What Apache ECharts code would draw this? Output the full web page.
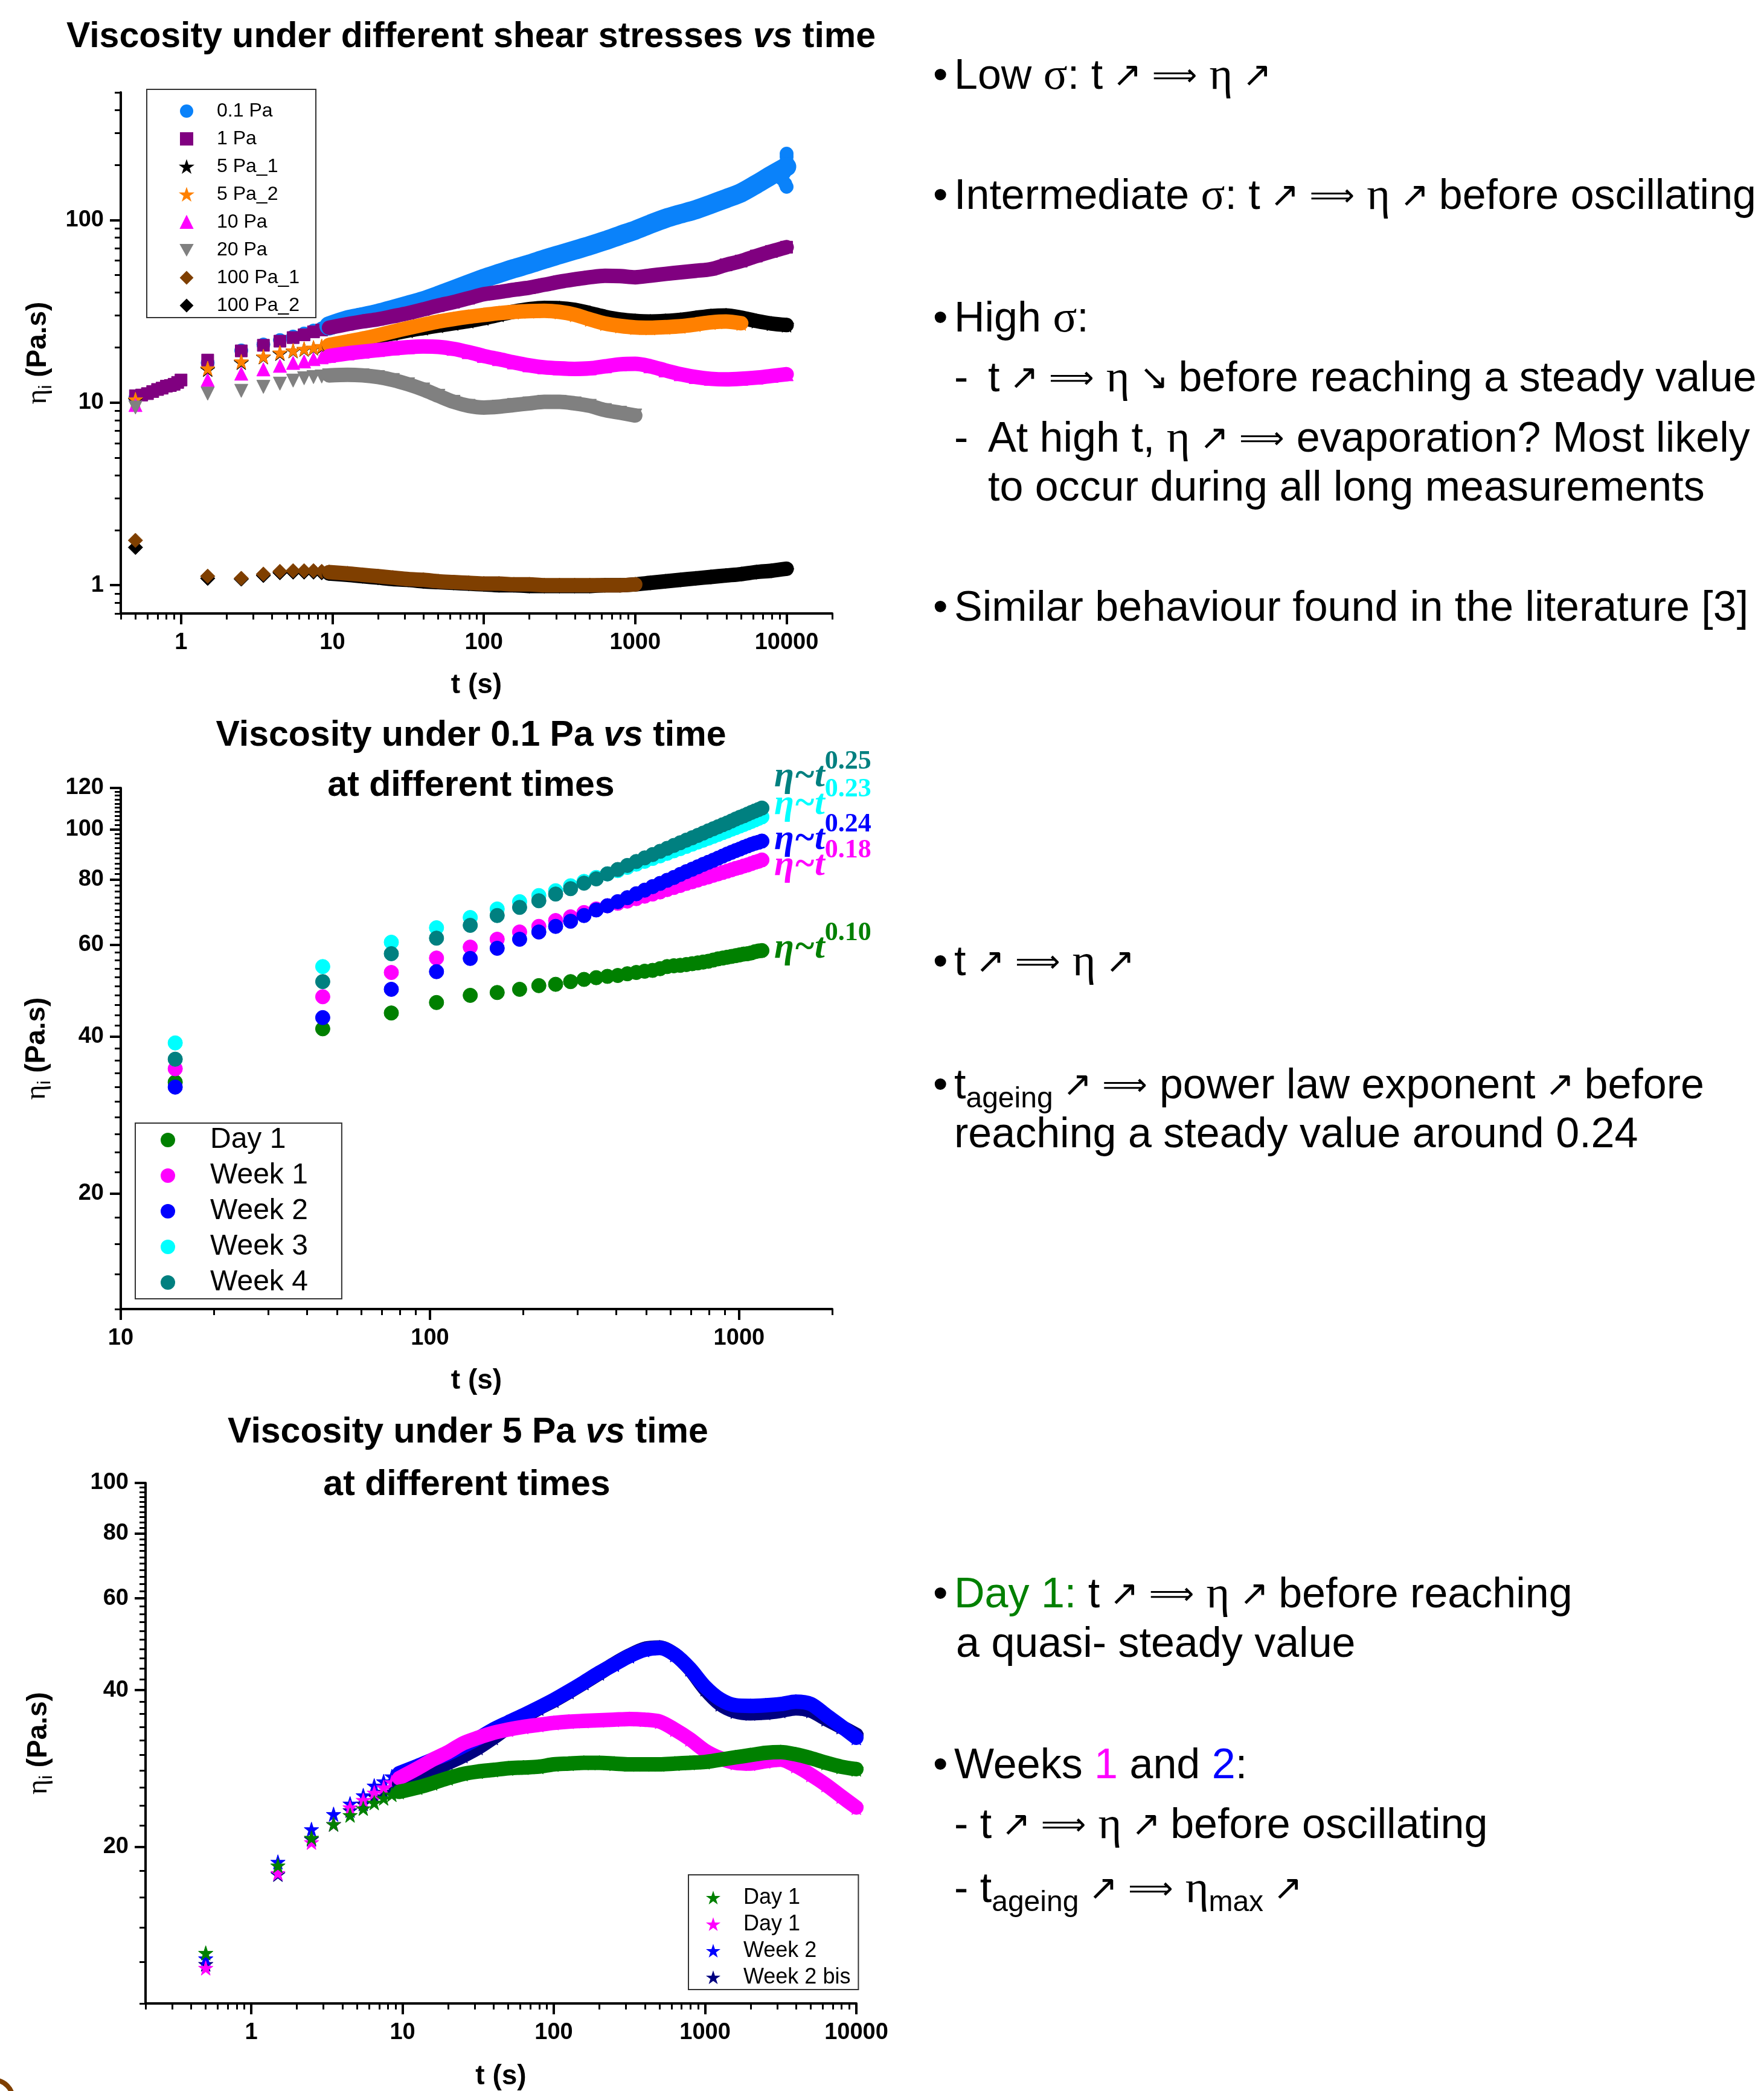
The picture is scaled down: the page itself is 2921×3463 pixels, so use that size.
<!DOCTYPE html>
<html>
<head>
<meta charset="utf-8">
<title>Viscosity vs time</title>
<script src="https://cdn.jsdelivr.net/npm/echarts@6.0.0/dist/echarts.min.js"></script>
<style>
  html, body { margin: 0; padding: 0; background: #fff; }
  #main { width: 2921px; height: 3463px; }
</style>
</head>
<body>
<div id="main"></div>
<script>
var SANS = '"Liberation Sans", Arial, sans-serif'
var SERIF = '"Liberation Serif", "Times New Roman", serif'
var ARROW = '"DejaVu Sans", sans-serif'

// sample times (s) of the long measurements, top and bottom charts
var tLong = [0.5, 1.5, 2.5, 3.5, 4.5, 5.5, 6.5, 7.5, 8.5, 9.5,
  12.6, 15.8, 20, 25.1, 31.6, 39.8, 50.1, 63.1, 79.4, 100,
  126, 158, 200, 251, 316, 398, 501, 631, 794, 1000,
  1259, 1585, 1995, 2512, 3162, 3981, 5012, 6310, 7943, 10000]

// top chart : viscosity (Pa.s) for each shear stress
var t1PaStart = [0.55, 0.6, 0.65, 0.7, 0.75, 0.8, 0.85, 0.9, 0.95, 1.0]
var v1PaStart = [11.0, 11.2, 11.5, 11.8, 12.0, 12.3, 12.4, 12.6, 12.9, 13.3]
var v01Pa = [10.6, 16.5, 19.3, 20.8, 22.0, 23.0, 23.9, 24.8, 25.5, 26.3,
  28.4, 29.5, 30.8, 32.4, 34.2, 36.1, 38.6, 41.5, 44.6, 47.9,
  51.0, 54.2, 57.4, 61.0, 64.6, 68.4, 72.4, 77.0, 82.4, 88.0,
  95, 102, 108, 114, 122, 131, 141, 157, 176, 196]
// scattered last points of 0.1 Pa around t = 10000 s
var t01PaEnd = [9300, 9600, 9800, 10000, 10000, 10000, 10000]
var v01PaEnd = [168, 180, 158, 152, 210, 222, 231]
var v1Pa = [10.9, 17.1, 19.2, 20.6, 21.7, 22.7, 23.5, 24.4, 25.0, 25.7,
  26.9, 27.8, 28.6, 29.7, 30.9, 32.4, 34.0, 35.5, 37.3, 39.2,
  40.3, 41.5, 42.6, 44.2, 45.9, 47.3, 48.6, 49.5, 49.3, 48.6,
  49.6, 50.7, 51.7, 52.7, 53.8, 56.8, 59.6, 63.5, 67.3, 71.0]
var v5Pa1 = [10.3, 15.2, 16.6, 17.8, 18.6, 19.2, 19.6, 19.9, 20.2, 20.5,
  21.3, 22.0, 23.0, 23.9, 24.8, 25.6, 26.4, 27.2, 28.0, 29.0,
  30.3, 31.5, 32.5, 33.0, 32.9, 32.2, 30.9, 29.5, 28.5, 28.0,
  27.8, 28.0, 28.4, 29.1, 29.8, 30.0, 29.2, 28.0, 27.1, 26.6]
var v5Pa2 = [10.4, 15.4, 16.8, 17.9, 18.8, 19.3, 19.7, 20.0, 20.4, 20.7,
  21.6, 22.4, 23.4, 24.5, 25.6, 26.7, 27.8, 28.7, 29.5, 30.2,
  30.9, 31.4, 31.7, 31.8, 31.4, 30.3, 28.6, 27.1, 26.3, 25.8,
  25.7, 25.9, 26.2, 26.8, 27.5, 27.8, 27.2, null, null, null]
var v10Pa = [9.7, 13.3, 14.4, 15.2, 15.9, 16.5, 16.8, 17.3, 17.7, 18.0,
  18.6, 19.0, 19.4, 19.8, 20.1, 20.3, 20.2, 19.7, 18.9, 18.0,
  17.3, 16.6, 16.0, 15.6, 15.4, 15.3, 15.4, 15.8, 16.2, 16.3,
  15.8, 15.0, 14.3, 13.8, 13.5, 13.4, 13.5, 13.7, 14.0, 14.3]
var v20Pa = [9.4, 11.2, 11.6, 12.2, 12.7, 13.2, 13.6, 13.8, 13.9, 14.1,
  14.2, 14.1, 13.8, 13.3, 12.6, 11.8, 10.9, 10.1, 9.6, 9.4,
  9.5, 9.7, 9.9, 10.1, 10.1, 9.9, 9.6, 9.1, 8.8, 8.5,
  null, null, null, null, null, null, null, null, null, null]
var v100Pa1 = [1.76, 1.12, 1.09, 1.15, 1.19, 1.20, 1.20, 1.20, 1.19, 1.18,
  1.16, 1.14, 1.12, 1.10, 1.08, 1.07, 1.05, 1.04, 1.03, 1.02,
  1.02, 1.01, 1.01, 1.0, 1.0, 1.0, 1.0, 1.0, 1.0, 1.01,
  null, null, null, null, null, null, null, null, null, null]
var v100Pa2 = [1.61, 1.09, 1.08, 1.13, 1.17, 1.18, 1.18, 1.18, 1.17, 1.16,
  1.14, 1.12, 1.10, 1.08, 1.07, 1.05, 1.04, 1.03, 1.02, 1.01,
  1.0, 1.0, 0.99, 0.99, 0.99, 0.99, 0.99, 1.0, 1.0, 1.01,
  1.03, 1.05, 1.07, 1.09, 1.11, 1.13, 1.15, 1.18, 1.20, 1.23]

// middle chart : 0.1 Pa at different ageing times
var tMid = [15, 45, 75, 105, 135, 165, 195, 225, 255, 285,
  315, 345, 375, 405, 435, 465, 495, 525, 555, 585,
  615, 645, 675, 705, 735, 765, 795, 825, 855, 885,
  915, 945, 975, 1005, 1035, 1065, 1095, 1125, 1155, 1185]
var vDay1M = [32.7, 41.4, 44.4, 46.5, 48.0, 48.6, 49.3, 50.1, 50.4, 51.0,
  51.5, 51.9, 52.2, 52.4, 52.8, 53.1, 53.4, 53.6, 54.0, 54.5,
  54.7, 54.8, 55.0, 55.2, 55.4, 55.6, 55.8, 56.1, 56.4, 56.6,
  56.8, 57.0, 57.2, 57.4, 57.6, 57.7, 57.9, 58.2, 58.4, 58.5]
var vWeek1M = [34.7, 47.7, 53.1, 56.6, 59.4, 61.5, 63.5, 65.1, 66.8, 67.9,
  69.2, 70.3, 71.3, 72.1, 72.8, 73.6, 74.4, 75.1, 75.8, 76.6,
  77.3, 78.0, 78.7, 79.3, 79.9, 80.5, 81.0, 81.6, 82.1, 82.6,
  83.1, 83.6, 84.1, 84.5, 85.0, 85.4, 85.9, 86.4, 86.8, 87.3]
var vWeek2M = [32.0, 43.5, 49.3, 53.3, 56.5, 59.1, 61.5, 63.5, 65.1, 66.6,
  68.3, 70.0, 71.3, 72.6, 73.9, 75.2, 76.4, 77.6, 78.7, 79.8,
  80.8, 81.9, 82.9, 83.8, 84.7, 85.6, 86.4, 87.2, 88.0, 88.8,
  89.6, 90.3, 91.0, 91.6, 92.3, 92.9, 93.5, 94.0, 94.4, 94.9]
var vWeek3M = [38.9, 54.5, 60.7, 64.7, 67.7, 70.3, 72.6, 74.6, 76.2, 77.9,
  79.4, 80.8, 82.1, 83.3, 84.5, 85.7, 86.8, 87.9, 88.9, 89.9,
  90.9, 91.8, 92.7, 93.6, 94.5, 95.3, 96.1, 96.9, 97.7, 98.5,
  99.2, 100.0, 100.7, 101.4, 102.1, 102.8, 103.5, 104.2, 104.9, 105.6]
var vWeek4M = [36.2, 51.0, 57.7, 61.8, 65.4, 68.3, 70.8, 72.9, 75.1, 76.9,
  78.8, 80.3, 82.1, 83.7, 85.2, 86.7, 88.1, 89.4, 90.7, 91.9,
  93.1, 94.2, 95.3, 96.3, 97.3, 98.3, 99.3, 100.2, 101.1, 102.0,
  102.8, 103.7, 104.6, 105.4, 106.1, 106.9, 107.7, 108.4, 109.1, 109.8]
var fitExponents = ['0.25', '0.23', '0.24', '0.18', '0.10']

// bottom chart : 5 Pa at different ageing times
var vDay1B = [12.5, 18.4, 20.8, 22.1, 23.0, 23.7, 24.3, 24.8, 25.2, 25.5,
  26.0, 26.5, 27.1, 27.6, 27.9, 28.1, 28.3, 28.4, 28.5, 28.8,
  28.9, 29.0, 29.0, 28.9, 28.8, 28.8, 28.8, 28.9, 29.0, 29.1,
  29.4, 29.7, 30.0, 30.3, 30.4, 30.1, 29.6, 29.0, 28.5, 28.2]
var vWeek1B = [11.7, 17.8, 20.4, 22.1, 23.8, 24.6, 25.4, 26.0, 26.6, 27.1,
  28.3, 29.4, 30.4, 31.6, 32.4, 33.1, 33.6, 34.0, 34.3, 34.6,
  34.8, 34.9, 35.0, 35.1, 35.2, 35.1, 34.8, 33.6, 32.2, 30.6,
  29.6, 29.0, 28.9, 29.2, 29.4, 28.6, 27.5, 26.3, 25.0, 23.8]
var vWeek2B = [12.2, 18.7, 21.6, 23.1, 24.2, 25.1, 26.2, 26.7, 27.3, 27.7,
  28.6, 29.4, 30.2, 31.2, 32.3, 33.6, 34.7, 35.8, 37.0, 38.3,
  39.8, 41.4, 43.2, 44.8, 46.5, 47.8, 48.2, 46.8, 44.0, 40.6,
  38.4, 37.4, 37.3, 37.4, 37.6, 38.0, 37.6, 35.8, 34.1, 32.4]
var vWeek2bisB = [11.9, 17.7, 20.7, 22.1, 23.5, 24.2, 25.0, 25.5, 26.0, 26.4,
  27.3, 28.1, 29.0, 29.9, 31.0, 32.4, 34.0, 35.5, 36.9, 38.2,
  39.7, 41.3, 43.1, 44.9, 46.6, 48.0, 48.3, 46.8, 43.9, 40.2,
  37.6, 36.4, 36.1, 36.2, 36.5, 36.9, 36.5, 35.2, 34.0, 32.8]

var topNames = ['0.1 Pa', '1 Pa', '5 Pa_1', '5 Pa_2', '10 Pa', '20 Pa', '100 Pa_1', '100 Pa_2']
var midNames = ['Day 1|m', 'Week 1|m', 'Week 2|m', 'Week 3|m', 'Week 4|m']
var botNames = ['Day 1|g', 'Day 1|p', 'Week 2|b', 'Week 2 bis|b']

var xTopLabels = [1, 10, 100, 1000, 10000]
var yTopLabels = [1, 10, 100]
var xMidLabels = [10, 100, 1000]
var yMidLabels = [20, 40, 60, 80, 100, 120]
var xBotLabels = [1, 10, 100, 1000, 10000]
var yBotLabels = [20, 40, 60, 80, 100]

var STAR = 'path://M50,0 L61.8,35.4 L99,35.4 L69,57.3 L80.3,92.7 L50,70.8 L19.7,92.7 L31,57.3 L1,35.4 L38.2,35.4 Z'
var TRI_DOWN = 'path://M0,0 L100,0 L50,90 Z'

function lg (v) { return Math.log10(v) }

// minor ticks of a log axis: k * 10^n, k = 2..9
function logMinors (from, to) {
  var out = []
  for (var e = -2; e <= 5; e++) {
    for (var k = 2; k <= 9; k++) {
      var v = k * Math.pow(10, e)
      if (v >= from * 0.999 && v <= to * 1.001) out.push(v)
    }
  }
  return out
}
function stepMinors (from, to, step) {
  var out = []
  for (var v = from; v <= to + 1e-9; v += step) out.push(v)
  return out
}

var xAxes = []
var yAxes = []
function addAxes (list, dim, grid, min, max, labels, minors, margin, name, nameGap) {
  var base = { type: 'value', gridIndex: grid, min: lg(min), max: lg(max), position: dim === 'x' ? 'bottom' : 'left', splitLine: { show: false } }
  list.push(Object.assign({}, base, {
    name: name,
    nameLocation: 'middle',
    nameGap: nameGap,
    nameTextStyle: dim === 'x'
      ? { fontFamily: SANS, fontSize: 46, fontWeight: 'bold', color: '#000' }
      : {
          color: '#000',
          rich: {
            e: { fontFamily: SERIF, fontSize: 48, lineHeight: 58, color: '#000' },
            s: { fontFamily: SANS, fontSize: 30, lineHeight: 58, verticalAlign: 'bottom', color: '#000' },
            b: { fontFamily: SANS, fontSize: 46, fontWeight: 'bold', lineHeight: 58, color: '#000' }
          }
        },
    axisLine: { show: true, onZero: false, lineStyle: { color: '#000', width: 4 } },
    axisTick: { show: true, length: 18, lineStyle: { color: '#000', width: 4 }, customValues: labels.map(lg) },
    axisLabel: {
      show: true,
      margin: margin,
      fontFamily: SANS,
      fontSize: 38,
      fontWeight: 'bold',
      color: '#000',
      customValues: labels.map(lg),
      formatter: function (v) { return String(Math.round(Math.pow(10, v))) }
    }
  }))
  list.push(Object.assign({}, base, {
    axisLine: { show: false, onZero: false },
    axisTick: { show: true, length: 10, lineStyle: { color: '#000', width: 3 }, customValues: minors.map(lg) },
    axisLabel: { show: false }
  }))
}

var yName = '{e|η}{s|i}{b| (Pa.s)}'
addAxes(xAxes, 'x', 0, 0.4, 20000, xTopLabels, logMinors(0.4, 20000), 30, 't (s)', 96)
addAxes(yAxes, 'y', 0, 0.7, 500, yTopLabels, logMinors(0.7, 500), 28, yName, 108)
addAxes(xAxes, 'x', 1, 10, 2000, xMidLabels, logMinors(10, 2000), 30, 't (s)', 96)
addAxes(yAxes, 'y', 1, 12, 120, yMidLabels, stepMinors(12, 120, 2), 28, yName, 110)
addAxes(xAxes, 'x', 2, 0.2, 10000, xBotLabels, logMinors(0.2, 10000), 30, 't (s)', 98)
addAxes(yAxes, 'y', 2, 10, 100, yBotLabels, stepMinors(10, 100, 2), 28, yName, 148)

function pairs (ts, vs, fromIdx) {
  var out = []
  for (var i = fromIdx || 0; i < ts.length; i++) {
    if (vs[i] != null) out.push([lg(ts[i]), lg(vs[i])])
  }
  return out
}

var series = []
// band = width of the line drawn under the dense part of a long measurement
function addCurve (name, axis, ts, vs, symbol, size, color, band, extra) {
  if (band) {
    series.push({
      type: 'line', name: name + ' band', xAxisIndex: axis, yAxisIndex: axis,
      data: pairs(ts, vs, 9), showSymbol: false, symbol: 'none', smooth: 0.3,
      lineStyle: { color: color, width: band, cap: 'round', join: 'round' }, silent: true
    })
  }
  series.push({
    type: 'scatter', name: name, xAxisIndex: axis, yAxisIndex: axis,
    data: pairs(ts, vs).concat(extra || []), symbol: symbol, symbolSize: size,
    itemStyle: { color: color, borderColor: color, borderWidth: 1, opacity: 1 }, silent: true
  })
}

// top
addCurve('0.1 Pa', 0, tLong, v01Pa, 'circle', 22, '#0A82FA', 32, pairs(t01PaEnd, v01PaEnd))
addCurve('1 Pa', 0, tLong, v1Pa, 'rect', 20, '#800080', 24, pairs(t1PaStart, v1PaStart))
addCurve('5 Pa_1', 0, tLong, v5Pa1, STAR, 24, '#000000', 24)
addCurve('5 Pa_2', 0, tLong, v5Pa2, STAR, 24, '#FF8000', 24)
addCurve('10 Pa', 0, tLong, v10Pa, 'triangle', 22, '#FF00FF', 24)
addCurve('20 Pa', 0, tLong, v20Pa, TRI_DOWN, 22, '#808080', 24)
addCurve('100 Pa_2', 0, tLong, v100Pa2, 'diamond', 24, '#000000', 24)
addCurve('100 Pa_1', 0, tLong, v100Pa1, 'diamond', 24, '#7F3F00', 24)
// middle
var midColors = ['#008000', '#FF00FF', '#0000FF', '#00FFFF', '#008080']
var midValues = [vDay1M, vWeek1M, vWeek2M, vWeek3M, vWeek4M]
midNames.forEach(function (n, i) { addCurve(n, 2, tMid, midValues[i], 'circle', 24, midColors[i], 0) })
// bottom
addCurve('Week 2 bis|b', 4, tLong, vWeek2bisB, STAR, 24, '#000080', 24)
addCurve('Week 2|b', 4, tLong, vWeek2B, STAR, 24, '#0000FF', 24)
addCurve('Day 1|p', 4, tLong, vWeek1B, STAR, 24, '#FF00FF', 24)
addCurve('Day 1|g', 4, tLong, vDay1B, STAR, 24, '#008000', 24)

function legendText (n) { return n.split('|')[0] }

// ---- texts drawn as graphic elements ----
var ctx = document.createElement('canvas').getContext('2d')
var graphics = []
function fontOf (kind, size) {
  if (kind === 'g') return Math.round(size * 1.05) + 'px ' + SERIF
  if (kind === 'a') return Math.round(size * 0.83) + 'px ' + ARROW
  if (kind === 'd') return Math.round(size * 0.74) + 'px ' + ARROW
  if (kind === 's') return Math.round(size * 0.68) + 'px ' + SANS
  return size + 'px ' + SANS
}
// arrows get a fixed box so that the line keeps the width of the slide text
var arrowBox = { a: 42, d: 76 }
function run (x, y, segs, size) {
  segs.forEach(function (s) {
    var f = s[3] || fontOf(s[1], size)
    var dy = s[1] === 's' ? size * 0.3 : (s[4] || 0)
    var box = arrowBox[s[1]]
    if (box) {
      box = box * size / 70
      graphics.push({ type: 'text', x: x + box / 2, y: y + dy, silent: true, style: { text: s[0], font: f, fill: s[2] || '#000', align: 'center', verticalAlign: 'middle' } })
      x += box
      return
    }
    graphics.push({ type: 'text', x: x, y: y + dy, silent: true, style: { text: s[0], font: f, fill: s[2] || '#000', align: 'left', verticalAlign: 'middle' } })
    ctx.font = f
    x += ctx.measureText(s[0]).width
  })
}
function title (x, y, parts) {
  graphics.push({
    type: 'text', x: x, y: y, silent: true,
    style: {
      text: parts, align: 'center', verticalAlign: 'middle', fill: '#000',
      rich: {
        b: { fontFamily: SANS, fontSize: 59, fontWeight: 'bold' },
        i: { fontFamily: SANS, fontSize: 59, fontWeight: 'bold', fontStyle: 'italic' }
      }
    }
  })
}
title(780, 62, '{b|Viscosity under different shear stresses }{i|vs}{b| time}')
title(780, 1219, '{b|Viscosity under 0.1 Pa }{i|vs}{b| time}')
title(780, 1302, '{b|at different times}')
title(775, 2373, '{b|Viscosity under 5 Pa }{i|vs}{b| time}')
title(773, 2460, '{b|at different times}')

// power-law labels of the middle chart
var fitY = [1286, 1332, 1390, 1433, 1570]
var fitColors = ['#008080', '#00FFFF', '#0000FF', '#FF00FF', '#008000']
fitExponents.forEach(function (e, i) {
  run(1282, fitY[i], [
    ['η~t', 'n', fitColors[i], 'italic bold 60px ' + SERIF],
    [e, 'n', fitColors[i], 'bold 44px ' + SERIF, -24]
  ], 60)
})

var FS = 70
var BX = 1545
var TX = 1580
var UP = ['↗', 'a']
var IMP = ['⟹', 'd']
var SP = [' ', 'n']
var ETA = ['η', 'g']
function bullet (y) { run(BX, y, [['•', 'n']], FS) }
bullet(128); run(TX, 128, [['Low ', 'n'], ['σ', 'g'], [': t ', 'n'], UP, SP, IMP, SP, ETA, SP, UP], FS)
bullet(327); run(TX, 327, [['Intermediate ', 'n'], ['σ', 'g'], [': t ', 'n'], UP, SP, IMP, SP, ETA, SP, UP, [' before oscillating', 'n']], FS)
bullet(530); run(TX, 530, [['High ', 'n'], ['σ', 'g'], [':', 'n']], FS)
run(TX, 629, [['-', 'n']], FS); run(1636, 629, [['t ', 'n'], UP, SP, IMP, SP, ETA, SP, ['↘', 'a'], [' before reaching a steady value', 'n']], FS)
run(TX, 729, [['-', 'n']], FS); run(1636, 729, [['At high t, ', 'n'], ETA, SP, UP, SP, IMP, SP, ['evaporation? Most likely', 'n']], FS)
run(1636, 810, [['to occur during all long measurements', 'n']], FS)
bullet(1009); run(TX, 1009, [['Similar behaviour found in the literature [3]', 'n']], FS)

bullet(1596); run(TX, 1596, [['t ', 'n'], UP, SP, IMP, SP, ETA, SP, UP], FS)
bullet(1800); run(TX, 1800, [['t', 'n'], ['ageing', 's'], SP, UP, SP, IMP, SP, ['power law exponent ', 'n'], UP, [' before', 'n']], FS)
run(TX, 1881, [['reaching a steady value around 0.24', 'n']], FS)
bullet(2643); run(TX, 2643, [['Day 1:', 'n', '#008000'], [' t ', 'n'], UP, SP, IMP, SP, ETA, SP, UP, [' before reaching', 'n']], FS)
run(1583, 2725, [['a quasi- steady value', 'n']], FS)
bullet(2926); run(TX, 2926, [['Weeks ', 'n'], ['1', 'n', '#FF00FF'], [' and ', 'n'], ['2', 'n', '#0000FF'], [':', 'n']], FS)
run(TX, 3025, [['- t ', 'n'], UP, SP, IMP, SP, ETA, SP, UP, [' before oscillating', 'n']], FS)
run(TX, 3131, [['- t', 'n'], ['ageing', 's'], SP, UP, SP, IMP, SP, ETA, ['max', 's'], SP, UP], FS)

// bit of a brown shape cut by the lower-left corner of the slide
graphics.push({ type: 'circle', silent: true, shape: { cx: -10, cy: 3476, r: 31 }, style: { fill: 'none', stroke: '#7F3F00', lineWidth: 8 } })

var chart = echarts.init(document.getElementById('main'), null, { renderer: 'canvas' })
chart.setOption({
  backgroundColor: '#fff',
  animation: false,
  grid: [
    { left: 200, top: 153, width: 1178, height: 863 },
    { left: 200, top: 1305, width: 1178, height: 863 },
    { left: 241, top: 2456, width: 1177, height: 864 }
  ],
  xAxis: xAxes,
  yAxis: yAxes,
  legend: [
    {
      data: topNames, orient: 'vertical', left: 243, top: 148, padding: [20, 27, 4, 55],
      itemWidth: 20, itemHeight: 20, itemGap: 14, borderColor: '#333', borderWidth: 2, selectedMode: false,
      textStyle: { fontFamily: SANS, fontSize: 32, lineHeight: 30, color: '#000', padding: [0, 0, 0, 35] }
    },
    {
      data: midNames, formatter: legendText, orient: 'vertical', left: 224, top: 1860, padding: [4, 56, 3, 42],
      itemWidth: 22, itemHeight: 22, itemGap: 11, borderColor: '#333', borderWidth: 2, selectedMode: false,
      textStyle: { fontFamily: SANS, fontSize: 48, lineHeight: 48, color: '#000', padding: [0, 0, 0, 54] }
    },
    {
      data: botNames, formatter: legendText, orient: 'vertical', left: 1140, top: 3105, padding: [20, 13, 2, 31],
      itemWidth: 18, itemHeight: 18, itemGap: 8, borderColor: '#333', borderWidth: 2, selectedMode: false,
      textStyle: { fontFamily: SANS, fontSize: 36, lineHeight: 36, color: '#000', padding: [0, 0, 0, 36] }
    }
  ],
  graphic: { elements: graphics },
  series: series
})
</script>
</body>
</html>
